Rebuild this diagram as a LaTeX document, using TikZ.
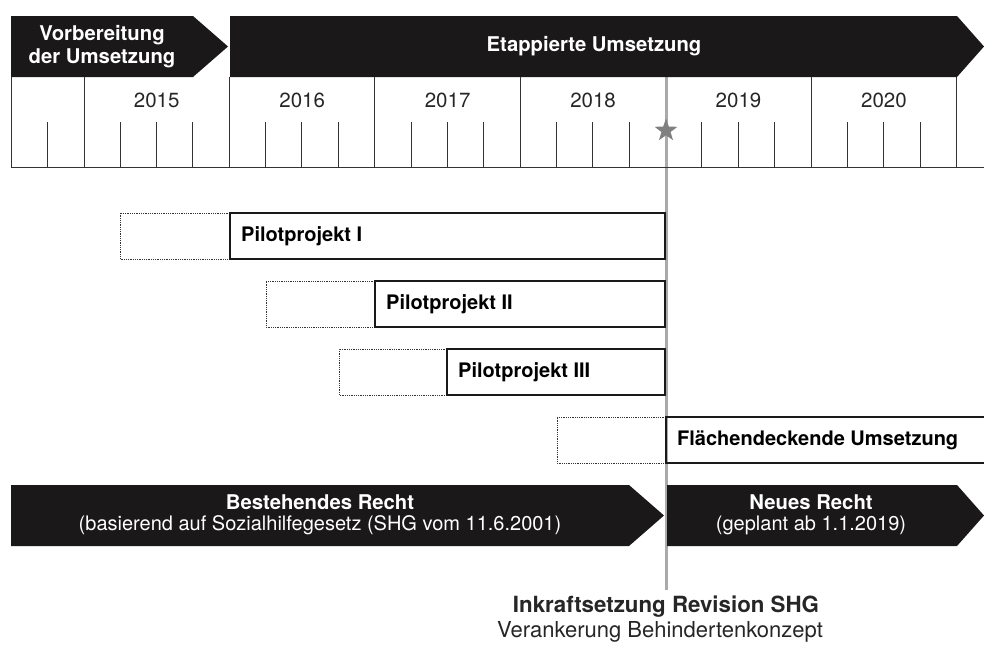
\documentclass[tikz,border=0pt]{standalone}
\usepackage{fontspec}
\setmainfont{TeX Gyre Heros}
\usetikzlibrary{shapes.geometric}
\definecolor{ban}{HTML}{1A1818}
\definecolor{tl}{HTML}{333333}
\definecolor{gline}{HTML}{AAAAAA}
\definecolor{gstar}{HTML}{808080}
\tikzset{
  bantext/.style={text=white, font=\fontsize{20.3}{23.5}\selectfont\bfseries, align=center, inner sep=0pt},
  bansub/.style={text=white, font=\fontsize{20}{24}\selectfont, align=center, inner sep=0pt},
  yeartext/.style={text=black!85, font=\fontsize{20.5}{24}\selectfont, inner sep=0pt},
  tick/.style={draw=tl, line width=0.9pt},
  solidbox/.style={draw=black!90, line width=2.4pt},
  dotbox/.style={draw=black!80, line width=0.8pt, densely dotted},
  boxtext/.style={font=\fontsize{20}{23}\selectfont\bfseries, anchor=west, inner sep=0pt},
}
\begin{document}
\begin{tikzpicture}[x=1pt,y=-1pt]
\useasboundingbox (0,0) rectangle (984,648);
% gray milestone line
\coordinate (mtop) at (666,77);
\node[text=black!85, font=\fontsize{22.3}{26}\selectfont\bfseries, inner sep=0pt] (ink) at (666,607) {Inkraftsetzung Revision SHG};
\node[text=black!85, font=\fontsize{22}{26}\selectfont, inner sep=0pt] (ver) at (660,632) {Verankerung Behindertenkonzept};
\draw[gline, line width=3pt] (mtop) -- (666,590);
% top banners
\fill[ban] (11,16) -- (193,16) -- (228,46.5) -- (193,77) -- (11,77) -- cycle;
\fill[ban] (230,16) -- (957,16) -- (984,46.5) -- (957,77) -- (230,77) -- cycle;
\node[bantext] (vorb) at (102,46.5) {Vorbereitung\\der Umsetzung};
\node[bantext] (etap) at (594,46.5) {Etappierte Umsetzung};
% timeline
\draw[tick] (11,77) -- (11,167);
\draw[tick] (11,167) -- (984,167);
\foreach \k in {0,1,2,3,5,6} {
  \draw[tick] ({84+145.45*\k},77) -- ({84+145.45*\k},167);
}
\foreach \j in {1,3,4,5,7,8,9,11,12,13,15,16,17,19,20,21,23,24,25} {
  \draw[tick] ({11+36.363*\j},122) -- ({11+36.363*\j},167);
}
\foreach \y [count=\i from 0] in {2015,2016,2017,2018,2019,2020} {
  \node[yeartext] (y\y) at ({156.7+145.45*\i},100.5) {\y};
}
\node[star, star points=5, star point ratio=2.5, fill=gstar, inner sep=0pt, minimum size=24pt] (star) at (666,130.5) {};
% pilot boxes
\draw[dotbox] (230,213) -- (120,213) -- (120,259) -- (230,259);
\draw[solidbox] (230,213) rectangle (665,259);
\node[boxtext] (p1) at (241,236) {Pilotprojekt I};
\draw[dotbox] (375,281) -- (266,281) -- (266,327) -- (375,327);
\draw[solidbox] (375,281) rectangle (665,327);
\node[boxtext] (p2) at (386,304) {Pilotprojekt II};
\draw[dotbox] (447,349) -- (339,349) -- (339,395) -- (447,395);
\draw[solidbox] (447,349) rectangle (665,395);
\node[boxtext] (p3) at (458,372) {Pilotprojekt III};
\draw[dotbox] (666,417) -- (557,417) -- (557,463) -- (666,463);
\draw[solidbox] (986,417) -- (666,417) -- (666,463) -- (986,463);
\node[boxtext] (fl) at (677,440) {Flächendeckende Umsetzung};
% bottom banners
\fill[ban] (11,485) -- (629,485) -- (664,515.5) -- (629,546) -- (11,546) -- cycle;
\fill[ban] (667,485) -- (957,485) -- (984,515.5) -- (957,546) -- (667,546) -- cycle;
\node[bantext] (best) at (320,502) {Bestehendes Recht};
\node[bansub] (bests) at (320,525) {(basierend auf Sozialhilfegesetz (SHG vom 11.6.2001)};
\node[bantext] (neu) at (811,502) {Neues Recht};
\node[bansub] (neus) at (811,525) {(geplant ab 1.1.2019)};
\end{tikzpicture}
\end{document}
